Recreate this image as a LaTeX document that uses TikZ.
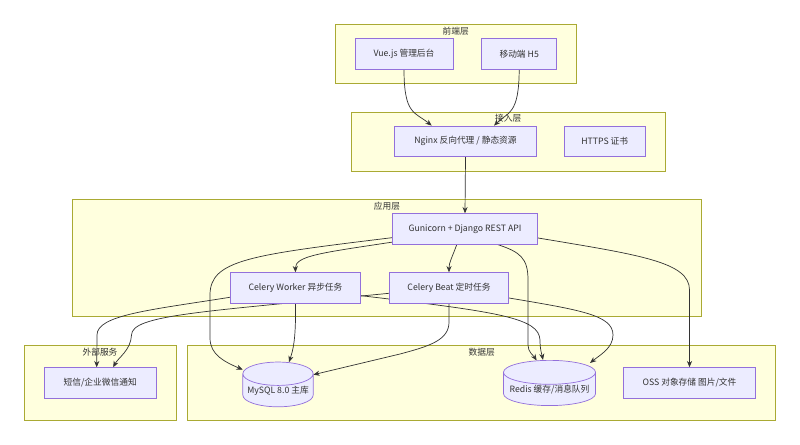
\documentclass[tikz,border=0pt]{standalone}
\usepackage{fontspec}
\setmainfont{Noto Sans CJK SC}
\usetikzlibrary{arrows.meta, positioning, calc, shapes.geometric}
\definecolor{nodefill}{HTML}{ECECFF}
\definecolor{nodeline}{HTML}{9370DB}
\definecolor{groupfill}{HTML}{FFFFDE}
\definecolor{groupline}{HTML}{AAAA33}
\definecolor{edgeline}{HTML}{333333}
\definecolor{labeltext}{HTML}{333333}
\pgfdeclarelayer{groups}
\pgfdeclarelayer{edges}
\pgfsetlayers{groups,edges,main}

\begin{document}
\begin{tikzpicture}[
  x=0.025cm, y=-0.025cm,
  every node/.style={font=\fontsize{6.2}{7.5}\selectfont, text=labeltext},
  svcnode/.style={draw=nodeline, fill=nodefill, line width=0.5pt, minimum height=21.8pt, inner sep=0pt},
  dbnode/.style={cylinder, shape border rotate=90, anchor=top, draw=nodeline, fill=nodefill, line width=0.5pt, inner sep=0pt},
  groupbox/.style={draw=groupline, fill=groupfill, line width=0.5pt},
  flow/.style={draw=edgeline, line width=0.5pt, -{Stealth[length=4.5pt,width=3.6pt]}}
]
  \useasboundingbox (0,0) rectangle (800,445);

  % layer groups
  \begin{pgfonlayer}{groups}
    \fill[white] (0,0) rectangle (800,445);
    \draw[groupbox] (335,24.3) rectangle (576.7,83.3);
    \draw[groupbox] (351,112.3) rectangle (665,171);
    \draw[groupbox] (72,199.3) rectangle (701.7,316.7);
    \draw[groupbox] (24.3,345.7) rectangle (176,420);
    \draw[groupbox] (187.3,345.7) rectangle (775.7,420);
  \end{pgfonlayer}
  \node (frontlbl) at (455.7,31) {前端层};
  \node (accesslbl) at (508.3,118.3) {接入层};
  \node (applbl) at (387,206) {应用层};
  \node (extlbl) at (100,352.3) {外部服务};
  \node (datalbl) at (481.7,352.3) {数据层};

  % services
  \node[svcnode, minimum width=69.7pt] (vue) at (404,53.8) {Vue.js 管理后台};
  \node[svcnode, minimum width=53.2pt] (h5) at (519.2,53.8) {移动端 H5};
  \node[svcnode, minimum width=101pt] (nginx) at (465.5,141.3) {Nginx 反向代理 / 静态资源};
  \node[svcnode, minimum width=57.2pt] (https) at (604.7,141.3) {HTTPS 证书};
  \node[svcnode, minimum width=103.5pt] (gun) at (465,229) {Gunicorn + Django REST API};
  \node[svcnode, minimum width=92.9pt] (worker) at (295.5,288) {Celery Worker 异步任务};
  \node[svcnode, minimum width=85pt] (beat) at (449,288) {Celery Beat 定时任务};
  \node[svcnode, minimum width=79.2pt] (sms) at (100.2,383) {短信/企业微信通知};
  \node[svcnode, minimum width=93.9pt] (oss) at (689.5,383) {OSS 对象存储 图片/文件};
  \node[dbnode, aspect=0.38, minimum width=50pt, minimum height=25pt] (mysql) at (278,361.7)
    {\raisebox{-3.5pt}{MySQL 8.0 主库}};
  \node[dbnode, aspect=0.3, minimum width=65.5pt, minimum height=27.7pt] (redis) at (549.5,360)
    {\raisebox{-3.5pt}{Redis 缓存/消息队列}};

  % connectors
  \begin{pgfonlayer}{edges}
    \draw[flow] (vue.south) .. controls (404,115) and (415,112) .. ($(nginx.north)+(-33.8,0)$);
    \draw[flow] (h5.south) .. controls (519,115) and (508,112) .. ($(nginx.north)+(28.5,0)$);
    \draw[flow] (nginx.south) -- (gun.north);
    \draw[flow] ($(gun.south west)+(0,-2.5)$) .. controls (320,253) and (295,256) .. (worker.north);
    \draw[flow] ($(gun.south)+(-8.3,0)$) .. controls (452,258) and (449,262) .. (beat.north);
    \draw[flow] ($(gun.west)+(0,8.7)$) .. controls (250,255) and (210,260) .. (210,295)
      -- (210,338) .. controls (210,355) and (225,362) .. ($(mysql.top)+(-35.3,8)$);
    \draw[flow] ($(gun.south)+(33,0)$) .. controls (520,252) and (528,258) .. (528,280)
      -- (528,345) .. controls (528,352) and (533,355) .. ($(redis.top)+(-12.8,0.5)$);
    \draw[flow] ($(gun.east)+(0,9)$) .. controls (640,255) and (689.5,262) .. (689.5,290) -- (oss.north);
    \draw[flow] ($(worker.west)+(0,9.3)$) .. controls (150,310) and (97,315) .. (97,335) -- ($(sms.north)+(-3.5,0)$);
    \draw[flow] ($(beat.west)+(0,5.3)$) .. controls (200,312) and (132,315) .. (131.5,335)
      .. controls (131,350) and (118,358) .. ($(sms.north)+(13,0)$);
    \draw[flow] (worker.south) .. controls (296,340) and (293,350) .. ($(mysql.top)+(11,0.5)$);
    \draw[flow] ($(worker.east)+(0,7.7)$) .. controls (500,312) and (539,318) .. (540,340)
      .. controls (540,350) and (542,355) .. ($(redis.top)+(-6.5,0)$);
    \draw[flow] (beat.south) -- (449,322) .. controls (449,340) and (430,346) .. (400,354)
      -- ($(mysql.top)+(35.3,13)$);
    \draw[flow] ($(beat.east)+(0,10)$) .. controls (580,310) and (613,315) .. (613,335)
      .. controls (613,348) and (600,355) .. ($(redis.top)+(40.5,3)$);
  \end{pgfonlayer}
\end{tikzpicture}
\end{document}
